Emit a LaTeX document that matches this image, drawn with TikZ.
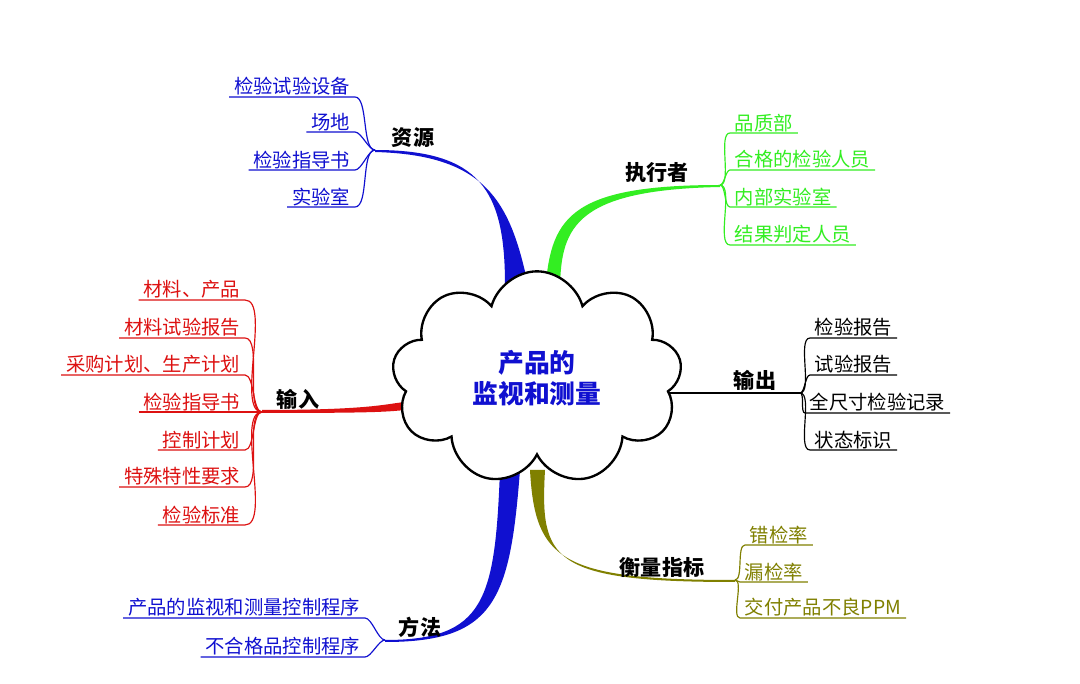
\documentclass[tikz,border=0pt]{standalone}
\usepackage{fontspec}
\newfontfamily\cjk{Noto Sans CJK SC}
\usetikzlibrary{shapes.symbols}
\definecolor{brblue}{HTML}{1010D0}
\definecolor{brgreen}{HTML}{33EE22}
\definecolor{brred}{HTML}{DD1111}
\definecolor{brolive}{HTML}{808000}
\tikzset{
  leaf/.style={inner xsep=4pt, inner ysep=1pt, font=\cjk\fontsize{16.5}{16.5}\selectfont},
  lleaf/.style={leaf, anchor=south east},
  rleaf/.style={leaf, anchor=south west},
  main/.style={inner xsep=3pt, inner ysep=2pt, font=\cjk\bfseries\fontsize{18}{18}\selectfont},
  twig/.style={line width=1pt, looseness=0.6},
}
% underline of a leaf and its curve to the hub
\newcommand{\lline}[2]{\draw[twig] (#1.south west) -- (#1.south east) to[out=0,in=180] (#2);}
\newcommand{\rline}[2]{\draw[twig] (#1.south east) -- (#1.south west) to[out=180,in=0] (#2);}
\begin{document}
\begin{tikzpicture}[x=0.03cm, y=-0.03cm]
        \useasboundingbox[fill=white] (0,0) rectangle (1080,684);

        % Tapered branches
        \fill[brblue] (505,285) .. controls (505,190) and (480,150) .. (375,150)
            -- (375,152) .. controls (485,155) and (510,200) .. (528,285) -- cycle;
        \fill[brgreen] (545,295) .. controls (550,220) and (565,185) .. (720,185)
            -- (720,187) .. controls (570,190) and (560,230) .. (560,295) -- cycle;
        \fill[brred] (262,412) -- (262,410) .. controls (370,410) and (385,404) .. (405,402)
            -- (405,410) .. controls (385,412) and (370,413) .. (262,413) -- cycle;
        \fill[brolive] (530,470) .. controls (535,560) and (560,580) .. (735,580)
            -- (735,582) .. controls (550,582) and (540,560) .. (545,470) -- cycle;
        \fill[brblue] (500,470) .. controls (495,600) and (485,640) .. (385,640)
            -- (385,642) .. controls (495,642) and (510,600) .. (520,470) -- cycle;

        % Centre
        \node[cloud, cloud puffs=9, aspect=1.35, draw, line width=2pt, fill=white,
              minimum width=8.7cm, minimum height=6.4cm, align=center,
              text=brblue, font=\cjk\bfseries\fontsize{22}{26}\selectfont]
              (centre) at (537,378) {产品的\\监视和测量};

        % Resources
        \node[main, anchor=south] (res) at (413,150) {资源};
        \coordinate (reshub) at (375,150);
        \begin{scope}[brblue]
        \node[lleaf] (r1) at (355,97) {检验试验设备};
        \node[lleaf] (r2) at (355,132) {场地};
        \node[lleaf] (r3) at (355,170) {检验指导书};
        \node[lleaf] (r4) at (355,207) {实验室};
        \foreach \n in {r1,r2,r3,r4} {\lline{\n}{reshub}}
        \end{scope}

        % Executor
        \node[main, anchor=south] (exe) at (657,185) {执行者};
        \coordinate (exehub) at (720,185);
        \begin{scope}[brgreen]
        \node[rleaf] (e1) at (730,133) {品质部};
        \node[rleaf] (e2) at (730,170) {合格的检验人员};
        \node[rleaf] (e3) at (730,207) {内部实验室};
        \node[rleaf] (e4) at (730,245) {结果判定人员};
        \foreach \n in {e1,e2,e3,e4} {\rline{\n}{exehub}}
        \end{scope}

        % Output
        \node[main, anchor=south] (out) at (755,393) {输出};
        \coordinate (outhub) at (800,393);
        \coordinate (outroot) at (668,393);
        \draw[line width=1.5pt] (outroot) -- (outhub);
        \node[rleaf] (o1) at (810,338) {检验报告};
        \node[rleaf] (o2) at (810,375) {试验报告};
        \node[rleaf] (o3) at (805,413) {全尺寸检验记录};
        \node[rleaf] (o4) at (810,450) {状态标识};
        \foreach \n in {o1,o2,o3,o4} {\rline{\n}{outhub}}

        % Measures
        \node[main, anchor=south] (mea) at (662,580) {衡量指标};
        \coordinate (meahub) at (735,580);
        \begin{scope}[brolive]
        \node[rleaf] (m1) at (745,545) {错检率};
        \node[rleaf] (m2) at (740,582) {漏检率};
        \node[rleaf] (m3) at (740,618) {交付产品不良PPM};
        \foreach \n in {m1,m2,m3} {\rline{\n}{meahub}}
        \end{scope}

        % Method
        \node[main, anchor=south] (met) at (420,640) {方法};
        \coordinate (methub) at (385,640);
        \begin{scope}[brblue]
        \node[lleaf] (t1) at (365,618) {产品的监视和测量控制程序};
        \node[lleaf] (t2) at (365,657) {不合格品控制程序};
        \foreach \n in {t1,t2} {\lline{\n}{methub}}
        \end{scope}

        % Input
        \node[main, anchor=south] (inp) at (298,412) {输入};
        \coordinate (inphub) at (262,412);
        \begin{scope}[brred]
        \node[lleaf] (i1) at (245,300) {材料、产品};
        \node[lleaf] (i2) at (245,338) {材料试验报告};
        \node[lleaf] (i3) at (245,375) {采购计划、生产计划};
        \node[lleaf] (i4) at (245,412) {检验指导书};
        \node[lleaf] (i5) at (245,450) {控制计划};
        \node[lleaf] (i6) at (245,487) {特殊特性要求};
        \node[lleaf] (i7) at (245,525) {检验标准};
        \foreach \n in {i1,i2,i3,i4,i5,i6,i7} {\lline{\n}{inphub}}
        \end{scope}
\end{tikzpicture}
\end{document}
